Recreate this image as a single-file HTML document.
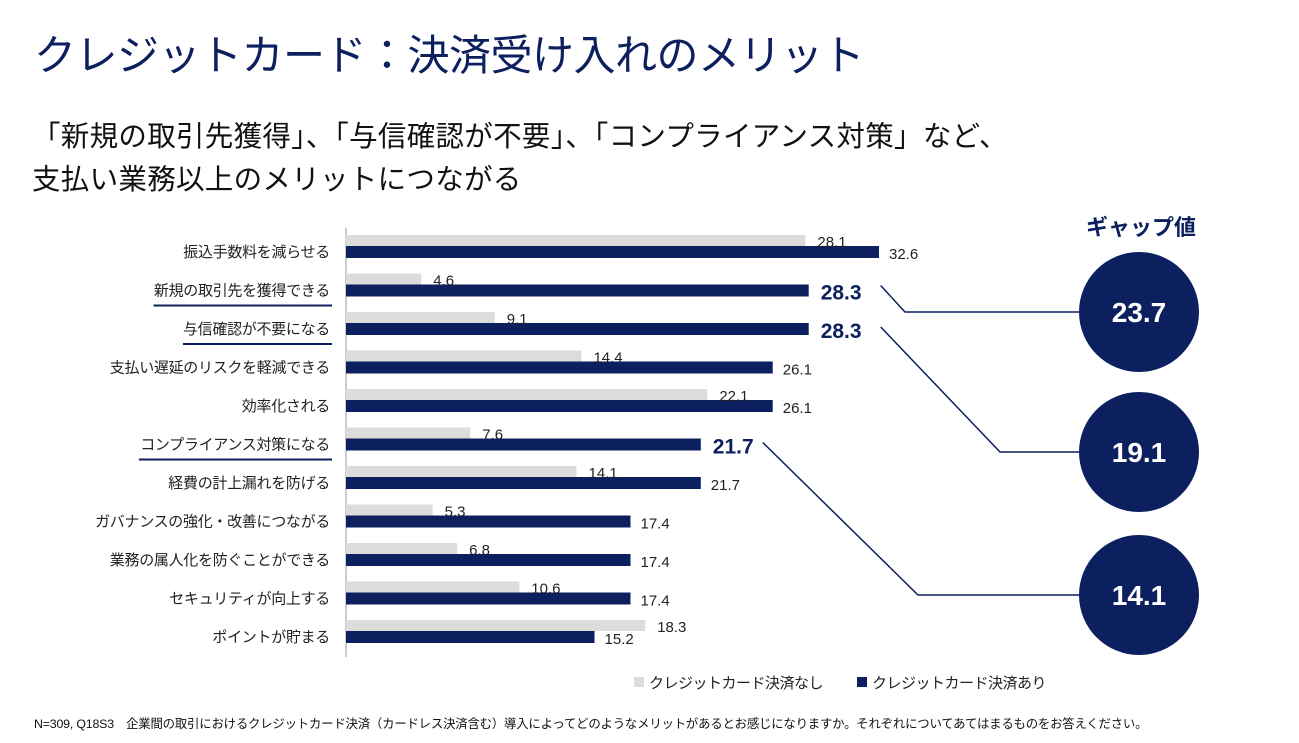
<!DOCTYPE html>
<html><head><meta charset="utf-8"><style>
body{margin:0;width:1299px;height:743px;background:#fff;overflow:hidden;font-family:"Liberation Sans","Noto Sans CJK JP",sans-serif;}
.t{position:absolute;white-space:nowrap}
</style></head><body>
<div class="t" style="left:34px;top:22px;font-size:42px;color:#0c1f5e;letter-spacing:-0.5px">クレジットカード：決済受け入れのメリット</div>
<div class="t" style="left:32px;top:116px;font-size:28.5px;line-height:43px;color:#111;letter-spacing:0.3px">「新規の取引先獲得」、「与信確認が不要」、「コンプライアンス対策」など、<br>支払い業務以上のメリットにつながる</div>
<div class="t" style="left:1086px;top:210px;font-size:22px;font-weight:bold;color:#0c1f5e">ギャップ値</div>
<svg id="chart" width="1299" height="743" style="position:absolute;left:0;top:0"></svg>
<div class="t" style="left:34px;top:714px;font-size:12.4px;color:#111;letter-spacing:-0.2px">N=309, Q18S3　企業間の取引におけるクレジットカード決済（カードレス決済含む）導入によってどのようなメリットがあるとお感じになりますか。それぞれについてあてはまるものをお答えください。</div>
<script>
const categories=["振込手数料を減らせる","新規の取引先を獲得できる","与信確認が不要になる","支払い遅延のリスクを軽減できる","効率化される","コンプライアンス対策になる","経費の計上漏れを防げる","ガバナンスの強化・改善につながる","業務の属人化を防ぐことができる","セキュリティが向上する","ポイントが貯まる"];
const withoutCard=[28.1,4.6,9.1,14.4,22.1,7.6,14.1,5.3,6.8,10.6,18.3];
const withCard=[32.6,28.3,28.3,26.1,26.1,21.7,21.7,17.4,17.4,17.4,15.2];
const highlighted=[1,2,5];
const gapValues=[23.7,19.1,14.1];
const NS="http://www.w3.org/2000/svg";
const svg=document.getElementById('chart');
const x0=346,k=16.35,y0=252,step=38.5;
const xs=v=>x0+v*k, ys=i=>y0+i*step;
function mk(t,a,txt){const e=document.createElementNS(NS,t);for(const n in a)e.setAttribute(n,a[n]);if(txt!=null)e.textContent=txt;svg.appendChild(e);return e;}
let ax=mk('line',{x1:x0,y1:228,x2:x0,y2:657,stroke:'#bbb','stroke-width':1.5});


categories.forEach((c,i)=>{
 const y=ys(i);const hl=highlighted.includes(i);
 let l=mk('text',{x:330,y:y+5,'text-anchor':'end','font-size':15,fill:'#222','letter-spacing':'-0.3'},c);
 
 
 if(hl){let u=mk('line',{x1:330-c.length*14.7,y1:y+15,x2:332,y2:y+15,stroke:'#0c1f5e','stroke-width':2});
 
 }
 let g=mk('rect',{x:x0,y:y-17,width:xs(withoutCard[i])-x0,height:11,fill:'#dcdcda'});
 
 
 let b=mk('rect',{x:x0,y:y-6,width:xs(withCard[i])-x0,height:12,fill:'#0c1f5e'});
 
 
 let gl=mk('text',{x:xs(withoutCard[i])+12,y:y-5,'font-size':15,fill:'#222'},withoutCard[i].toFixed(1));
 
 
 let v=mk('text',{x:xs(withCard[i])+(hl?12:10),y:y+(hl?9:7),'font-size':hl?21:15,'font-weight':hl?'bold':'normal',fill:hl?'#0c1f5e':'#222'},withCard[i].toFixed(1));
 
 
});
const cy=[312,452,595];
highlighted.forEach((ri,j)=>{
 const sx=xs(withCard[ri])+(j==2?62:72), sy=ys(ri)-2+(j==0?-3:0);
 const ex=j==0?905:(j==1?1000:918);
 let p=mk('polyline',{points:`${sx},${sy} ${ex},${cy[j]} 1080,${cy[j]}`,fill:'none',stroke:'#0c1f5e','stroke-width':1.5});
 
 
 let c=mk('circle',{cx:1139,cy:cy[j],r:60,fill:'#0c1f5e'});
 
 
 let t=mk('text',{x:1139,y:cy[j]+10,'text-anchor':'middle','font-size':28,'font-weight':'bold',fill:'#fff'},gapValues[j].toFixed(1));
 
 
});
[[634,'#dcdcda','クレジットカード決済なし'],[857,'#0c1f5e','クレジットカード決済あり']].forEach(([x,col,txt])=>{
 let r=mk('rect',{x:x,y:677,width:10,height:10,fill:col});
 
 
 let t=mk('text',{x:x+15,y:688,'font-size':15,fill:'#222','letter-spacing':'-0.5'},txt);
 
 
});
</script>
</body></html>
